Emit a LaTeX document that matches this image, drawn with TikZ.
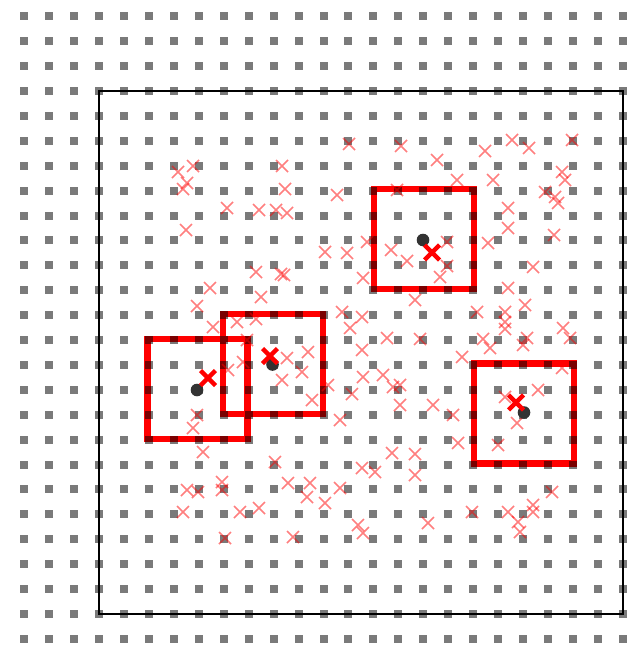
\documentclass[tikz,border=0pt]{standalone}
\usetikzlibrary{calc}
\tikzset{
  frame/.style={draw=black,line width=1.5pt},
  redbox/.style={draw=red,line width=6.5pt},
  gridsq/.style={fill=black,opacity=0.52},
  lightx/.style={draw=red,opacity=0.5,line width=1.5pt},
  boldx/.style={draw=red,line width=4.5pt},
  cdot/.style={fill=black!80}
}
\begin{document}
\begin{tikzpicture}[x=1pt,y=-1pt]
\useasboundingbox (0,0) rectangle (643,645);
% frame
\draw[frame] (99,91) rectangle (623,614);
% red squares centred on the dots
\foreach \cx/\cy in {424/239, 197.5/389, 273/364, 524/413.5}{
  \draw[redbox] (\cx-50,\cy-50) rectangle (\cx+50,\cy+50);
}
% grid of grey squares
\foreach \i in {0,...,24}{
  \foreach \j in {0,...,25}{
    \fill[gridsq] ({24.1+24.95*\i-4},{16.3+24.9*\j-4}) rectangle ++(8,8);
  }
}
% light crosses
\foreach \px/\py in {
193/166,178/172,187/183,183/189,282/166,285/189,227/208,259/210,276/210,287/213,
186/230,256/272,281/274,284/275,210/288,261/297,197/306,213/327,237/322,256/319,
247/340,349/144,401/146,437/160,337/195,397/190,325/252,347/253,367/242,391/250,
407/261,363/278,415/300,342/312,362/317,350/328,387/338,420/339,440/277,447/242,
447/266,512/140,572/140,485/151,529/148,457/180,493/180,562/172,565/180,545/192,
555/197,558/203,508/208,508/228,554/235,488/243,533/267,508/288,525/305,477/312,
505/312,505/322,505/329,563/328,483/339,527/338,570/338,243/362,228/370,287/358,
282/380,302/372,197/415,193/428,203/452,275/462,288/483,187/490,198/492,222/482,
222/490,183/512,240/512,259/508,225/538,293/537,308/352,312/400,328/385,362/350,
363/377,352/394,383/375,393/387,400/385,400/405,433/405,340/420,392/453,415/454,
362/468,375/472,415/475,310/483,307/497,340/488,325/503,358/525,363/533,428/523,
490/348,523/345,462/357,562/368,505/397,538/390,517/423,453/415,458/443,498/445,
552/492,472/512,508/512,533/505,533/512,518/522,520/532}{
  \draw[lightx] (\px-6,\py-6) -- (\px+6,\py+6)
                (\px-6,\py+6) -- (\px+6,\py-6);
}
% dark dots
\foreach \cx/\cy in {423/240, 197/390, 272.5/364.5, 524/412.5}{
  \fill[cdot] (\cx,\cy) circle (6.3);
}
% bold crosses
\foreach \px/\py in {432/252.5, 208/378, 270/356, 516/402.5}{
  \draw[boldx] (\px-7.5,\py-7.5) -- (\px+7.5,\py+7.5)
               (\px-7.5,\py+7.5) -- (\px+7.5,\py-7.5);
}
\end{tikzpicture}
\end{document}
